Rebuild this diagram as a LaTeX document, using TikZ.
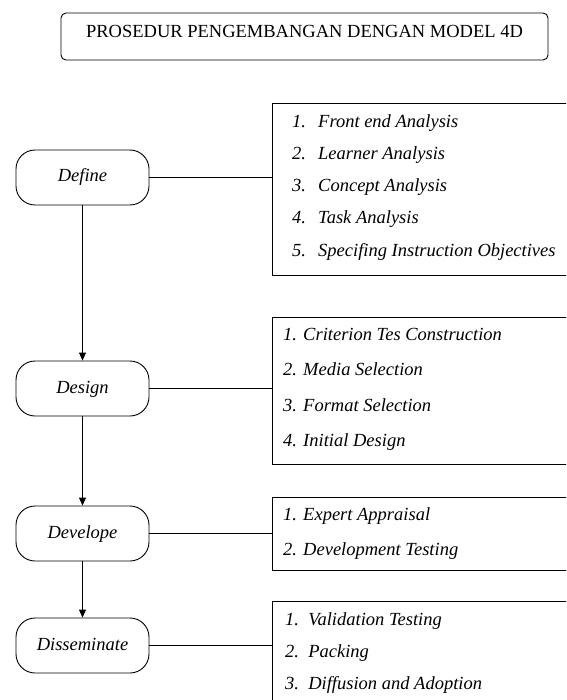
\documentclass[tikz,border=0pt]{standalone}
\usepackage{fontspec}
\setmainfont{Liberation Serif}
\usetikzlibrary{arrows.meta, positioning}

\newcommand{\boxfont}{\fontsize{18.5}{22}\selectfont}

\tikzset{
  titlebox/.style={draw, line width=0.9pt, rounded corners=5pt, minimum width=487pt,
    text height=25pt, text depth=22pt, inner sep=0pt, font=\boxfont},
  phase/.style={draw, line width=0.9pt, rounded corners=19pt, minimum width=133pt,
    minimum height=55pt, text height=13pt, text depth=4pt, inner sep=0pt,
    font=\boxfont\itshape},
  listbox/.style={draw, line width=0.8pt, anchor=north west, minimum width=300pt, inner sep=0pt},
  item/.style={anchor=base west, inner sep=0pt, font=\boxfont\itshape},
  flow/.style={line width=0.9pt, -{Triangle[length=8pt,width=7pt]}},
  link/.style={line width=0.8pt}
}

\begin{document}
\begin{tikzpicture}[x=1pt, y=-1pt]
\useasboundingbox (0,0) rectangle (566,700);
\clip (0,0) rectangle (566,700);

% Title
\node (title) [titlebox] at (304.5,36.5) {PROSEDUR PENGEMBANGAN DENGAN MODEL 4D};

% Phases
\node (define) [phase] at (82.5,177.5) {Define};
\node (design) [phase] at (82.5,388.5) {Design};
\node (develope) [phase] at (82.5,533.5) {Develope};
\node (dissem) [phase] at (82.5,645.5) {Disseminate};

% Flow arrows
\draw[flow] (define) -- (design);
\draw[flow] (design) -- (develope);
\draw[flow] (develope) -- (dissem);

% List boxes
\node (box1) [listbox, minimum height=172pt] at (272,103) {};
\node (box2) [listbox, minimum height=147pt] at (272,317) {};
\node (box3) [listbox, minimum height=73pt] at (272,497) {};
\node (box4) [listbox, minimum height=110pt] at (272,601) {};

% Links
\draw[link] (define) -- (define -| box1.west);
\draw[link] (design) -- (design -| box2.west);
\draw[link] (develope) -- (develope -| box3.west);
\draw[link] (dissem) -- (dissem -| box4.west);

% Define items
\node (def1) [item] at (292,128) {\makebox[26pt][l]{1.}Front end Analysis};
\node (def2) [item] at (292,160) {\makebox[26pt][l]{2.}Learner Analysis};
\node (def3) [item] at (292,192) {\makebox[26pt][l]{3.}Concept Analysis};
\node (def4) [item] at (292,224) {\makebox[26pt][l]{4.}Task Analysis};
\node (def5) [item] at (292,256) {\makebox[26pt][l]{5.}Specifing Instruction Objectives};

% Design items
\node (des1) [item] at (283,340) {1. Criterion Tes Construction};
\node (des2) [item] at (283,375) {2. Media Selection};
\node (des3) [item] at (283,411) {3. Format Selection};
\node (des4) [item] at (283,446) {4. Initial Design};

% Develope items
\node (dev1) [item] at (283,520) {1. Expert Appraisal};
\node (dev2) [item] at (283,555) {2. Development Testing};

% Disseminate items
\node (dis1) [item] at (285,625) {1.\ \ Validation Testing};
\node (dis2) [item] at (285,657) {2.\ \ Packing};
\node (dis3) [item] at (285,689) {3.\ \ Diffusion and Adoption};
\end{tikzpicture}
\end{document}
